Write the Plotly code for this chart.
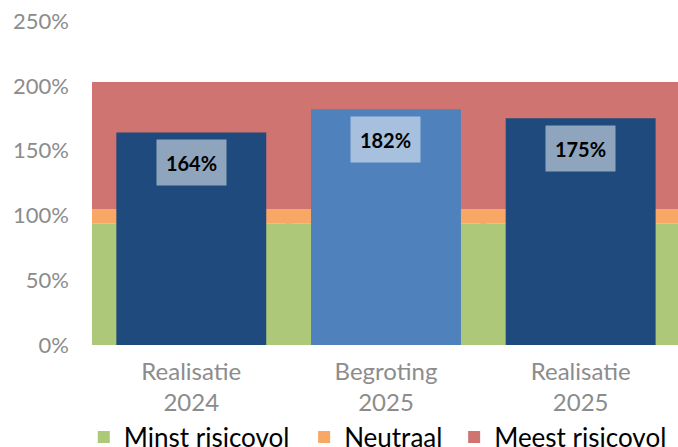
import plotly.graph_objects as go

categories = ["Realisatie<br>2024", "Begroting<br>2025", "Realisatie<br>2025"]
values = [164, 182, 175]
value_labels = ["164%", "182%", "175%"]
bar_colors = ["#1F4A7D", "#4F81BD", "#1F4A7D"]

band_names = ["Minst risicovol", "Neutraal", "Meest risicovol"]
band_bottoms = [0, 94, 105]
band_heights = [94, 11, 98]
band_colors = ["#AEC87A", "#F8A864", "#CF7471"]

y_ticks = [0, 50, 100, 150, 200, 250]
y_tick_text = ["0%", "50%", "100%", "150%", "200%", "250%"]

FONT = "Lato"
legend_ids = ["legend", "legend2", "legend3"]
legend_x = [-0.014, 0.362, 0.618]

fig = go.Figure()
for name, b, h, c, lg in zip(band_names, band_bottoms, band_heights, band_colors, legend_ids):
    fig.add_trace(go.Bar(
        x=categories, y=[h] * len(categories), base=[b] * len(categories),
        width=1.03, name=name, marker=dict(color=c, line=dict(width=0)),
        showlegend=True, hoverinfo="skip", legend=lg,
    ))

fig.add_trace(go.Bar(
    x=categories, y=values, width=0.77,
    marker=dict(color=bar_colors, line=dict(width=0)),
    showlegend=False, name="Ratio",
))

for cat, v, lab in zip(categories, values, value_labels):
    fig.add_annotation(
        x=cat, y=v, text="<b>" + lab + "</b>", showarrow=False,
        yanchor="top", yshift=-7, width=67, height=43,
        bgcolor="rgba(255,255,255,0.5)",
        font=dict(family=FONT, size=20, color="#000000"),
    )

legend_common = dict(
    orientation="h", y=-0.284, yanchor="middle", xanchor="left",
    font=dict(family=FONT, size=26, color="#000000"),
    bgcolor="rgba(0,0,0,0)", borderwidth=0,
)

fig.update_layout(
    width=678, height=447,
    margin=dict(l=92, r=0, t=21, b=102, autoexpand=False),
    barmode="overlay",
    paper_bgcolor="white", plot_bgcolor="white",
    font=dict(family=FONT),
    showlegend=True,
    legend=dict(x=legend_x[0], **legend_common),
    legend2=dict(x=legend_x[1], **legend_common),
    legend3=dict(x=legend_x[2], **legend_common),
    xaxis=dict(
        range=[-0.51, 2.5], showgrid=False, zeroline=False, showline=False,
        ticks="", ticklabelstandoff=10, automargin=False,
        tickfont=dict(family=FONT, size=24, color="#8C8C8C"),
    ),
    yaxis=dict(
        range=[0, 250], tickmode="array", tickvals=y_ticks, ticktext=y_tick_text,
        showgrid=False, zeroline=False, showline=False, ticks="",
        ticklabelstandoff=22, automargin=False,
        tickfont=dict(family=FONT, size=22, color="#8C8C8C"),
    ),
)

fig.write_html(
    "out.html",
    config={"displayModeBar": False},
    post_script="document.body.style.margin='0';document.body.style.overflow='hidden';",
)
